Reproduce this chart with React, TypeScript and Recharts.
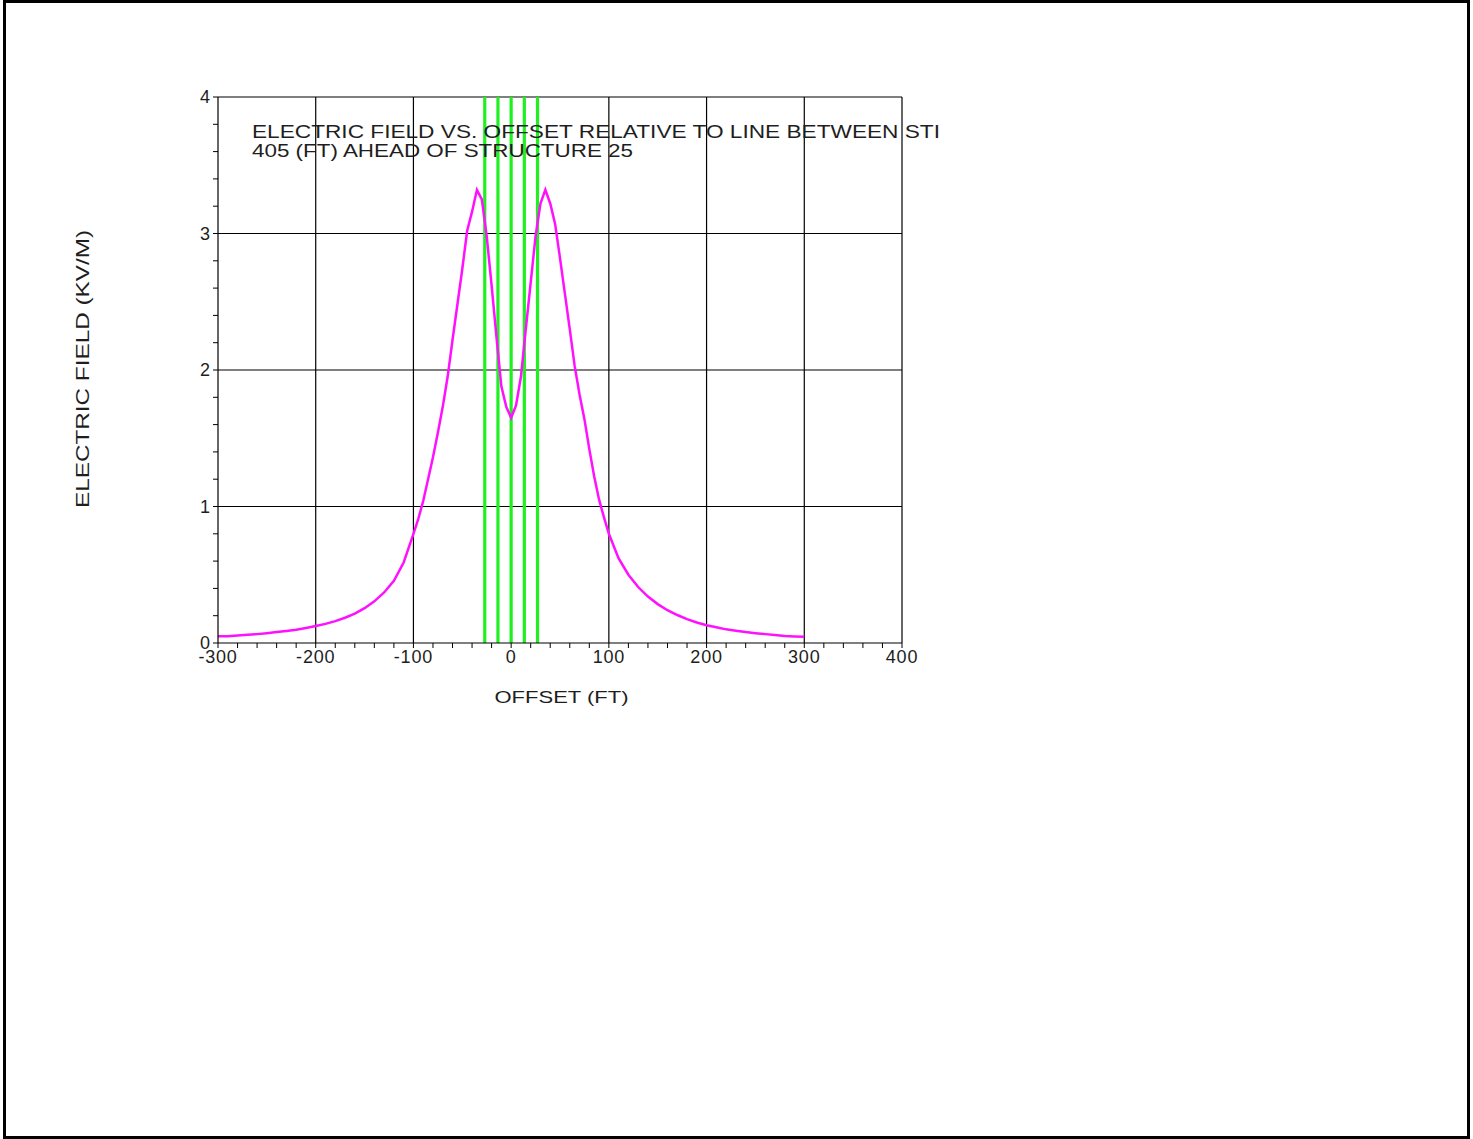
import React from "react";
import { LineChart, Line, XAxis, YAxis, ReferenceLine } from "recharts";

const offsetsFt = [
  -300, -290, -280, -270, -260, -250, -240, -230, -220, -210, -200, -190, -180, -170, -160, -150, -140, -130, -120, -110,
  -100, -95, -90, -85, -80, -75, -70, -65, -60, -55, -50, -45, -40, -35, -30, -25, -20, -15, -10, -5,
  0, 5, 10, 15, 20, 25, 30, 35, 40, 45, 50, 55, 60, 65, 70, 75, 80, 85, 90, 95,
  100, 110, 120, 130, 140, 150, 160, 170, 180, 190, 200, 210, 220, 230, 240, 250, 260, 270, 280, 290, 300,
];
const fieldKVM = [
  0.05, 0.05, 0.055, 0.06, 0.065, 0.072, 0.08, 0.088, 0.097, 0.11, 0.125, 0.14, 0.16, 0.185, 0.215, 0.255, 0.305, 0.37, 0.455, 0.59,
  0.8, 0.91, 1.04, 1.2, 1.36, 1.54, 1.73, 1.95, 2.22, 2.48, 2.74, 3.02, 3.16, 3.32, 3.25, 2.98, 2.62, 2.24, 1.88, 1.73,
  1.65, 1.74, 1.95, 2.3, 2.64, 2.98, 3.22, 3.32, 3.22, 3.07, 2.82, 2.56, 2.3, 2.03, 1.82, 1.64, 1.42, 1.22, 1.05, 0.92,
  0.8, 0.62, 0.5, 0.41, 0.34, 0.285, 0.24, 0.205, 0.175, 0.15, 0.13, 0.115, 0.1, 0.09, 0.08, 0.072, 0.065, 0.058, 0.052, 0.048, 0.045,
];
const conductorOffsets = [-27, -13.5, 0, 13.5, 27];
const xTicks = [
  -300, -280, -260, -240, -220, -200, -180, -160, -140, -120, -100, -80, -60, -40, -20,
  0, 20, 40, 60, 80, 100, 120, 140, 160, 180, 200, 220, 240, 260, 280, 300, 320, 340, 360, 380, 400,
];
const yTicks = [0, 0.2, 0.4, 0.6, 0.8, 1, 1.2, 1.4, 1.6, 1.8, 2, 2.2, 2.4, 2.6, 2.8, 3, 3.2, 3.4, 3.6, 3.8, 4];
const gridX = [-200, -100, 0, 100, 200, 300, 400];
const gridY = [1, 2, 3, 4];
const titleLines = [
  "ELECTRIC FIELD VS. OFFSET RELATIVE TO LINE BETWEEN STI",
  "405 (FT) AHEAD OF STRUCTURE 25",
];

const data = offsetsFt.map((x, i) => ({ x, e: fieldKVM[i] }));

const FONT = "'Liberation Sans', Arial, sans-serif";
const TXT = "#1e1e1e";

const XTick = (props: any) => {
  const { x, y, payload } = props;
  const v = payload.value;
  if (v % 100 !== 0) return <g />;
  return (
    <text x={x} y={y} dy={12} textAnchor="middle" fontSize={18} letterSpacing={0.8} fontFamily={FONT} fill={TXT}>
      {String(v)}
    </text>
  );
};

const YTick = (props: any) => {
  const { x, y, payload } = props;
  const v = payload.value;
  if (Math.abs(v - Math.round(v)) > 1e-6) return <g />;
  return (
    <text x={x} y={y} dy={6} textAnchor="end" fontSize={18} fontFamily={FONT} fill={TXT}>
      {String(Math.round(v))}
    </text>
  );
};

export default function App() {
  const W = 1473;
  const H = 1139;
  const yAxisW = 40;
  const xAxisH = 60;
  return (
    <div style={{ position: "absolute", left: 0, top: 0, width: W, height: H, background: "#fff", overflow: "hidden" }}>
      <div
        style={{
          position: "absolute",
          left: 3,
          top: 0,
          width: 1467,
          height: 1139,
          border: "3px solid #000",
          boxSizing: "border-box",
        }}
      />
      <div style={{ position: "absolute", left: 0, top: 0 }}>
        <LineChart
          width={W}
          height={H}
          data={data}
          margin={{ top: 97, left: 218 - yAxisW, right: W - 902, bottom: H - 643 - xAxisH }}
        >
          <XAxis
            dataKey="x"
            type="number"
            domain={[-300, 400]}
            ticks={xTicks}
            interval={0}
            height={xAxisH}
            tickSize={5}
            tickMargin={3}
            tick={<XTick />}
            axisLine={{ stroke: "#000", strokeWidth: 1.2 }}
            tickLine={{ stroke: "#000", strokeWidth: 1 }}
            allowDataOverflow
          />
          <YAxis
            type="number"
            domain={[0, 4]}
            ticks={yTicks}
            interval={0}
            width={yAxisW}
            tickSize={5}
            tickMargin={3}
            tick={<YTick />}
            axisLine={{ stroke: "#000", strokeWidth: 1.2 }}
            tickLine={{ stroke: "#000", strokeWidth: 1 }}
            allowDataOverflow
          />
          {gridX.map((gx) => (
            <ReferenceLine key={"gx" + gx} x={gx} stroke="#000" strokeWidth={1.2} ifOverflow="extendDomain" />
          ))}
          {gridY.map((gy) => (
            <ReferenceLine key={"gy" + gy} y={gy} stroke="#000" strokeWidth={1.2} ifOverflow="extendDomain" />
          ))}
          {conductorOffsets.map((c) => (
            <ReferenceLine key={"c" + c} x={c} stroke="#1ff01f" strokeWidth={3.2} />
          ))}
          <Line
            type="linear"
            dataKey="e"
            stroke="#ff10ff"
            strokeWidth={2.5}
            dot={false}
            activeDot={false}
            isAnimationActive={false}
          />
        </LineChart>
      </div>
      <svg width={W} height={H} style={{ position: "absolute", left: 0, top: 0, pointerEvents: "none" }}>
        <text x={252} y={138} fontSize={18} fontFamily={FONT} fill={TXT} textLength={688} lengthAdjust="spacingAndGlyphs">
          {titleLines[0]}
        </text>
        <text x={252} y={157} fontSize={18} fontFamily={FONT} fill={TXT} textLength={381} lengthAdjust="spacingAndGlyphs">
          {titleLines[1]}
        </text>
        <text x={561.5} y={703} fontSize={17} fontFamily={FONT} fill={TXT} textAnchor="middle" textLength={134} lengthAdjust="spacingAndGlyphs">
          OFFSET (FT)
        </text>
        <text
          x={0}
          y={0}
          fontSize={18}
          fontFamily={FONT}
          fill={TXT}
          textAnchor="middle"
          transform="translate(89 369) rotate(-90)"
          textLength={278}
          lengthAdjust="spacingAndGlyphs"
        >
          ELECTRIC FIELD (KV/M)
        </text>
      </svg>
    </div>
  );
}
